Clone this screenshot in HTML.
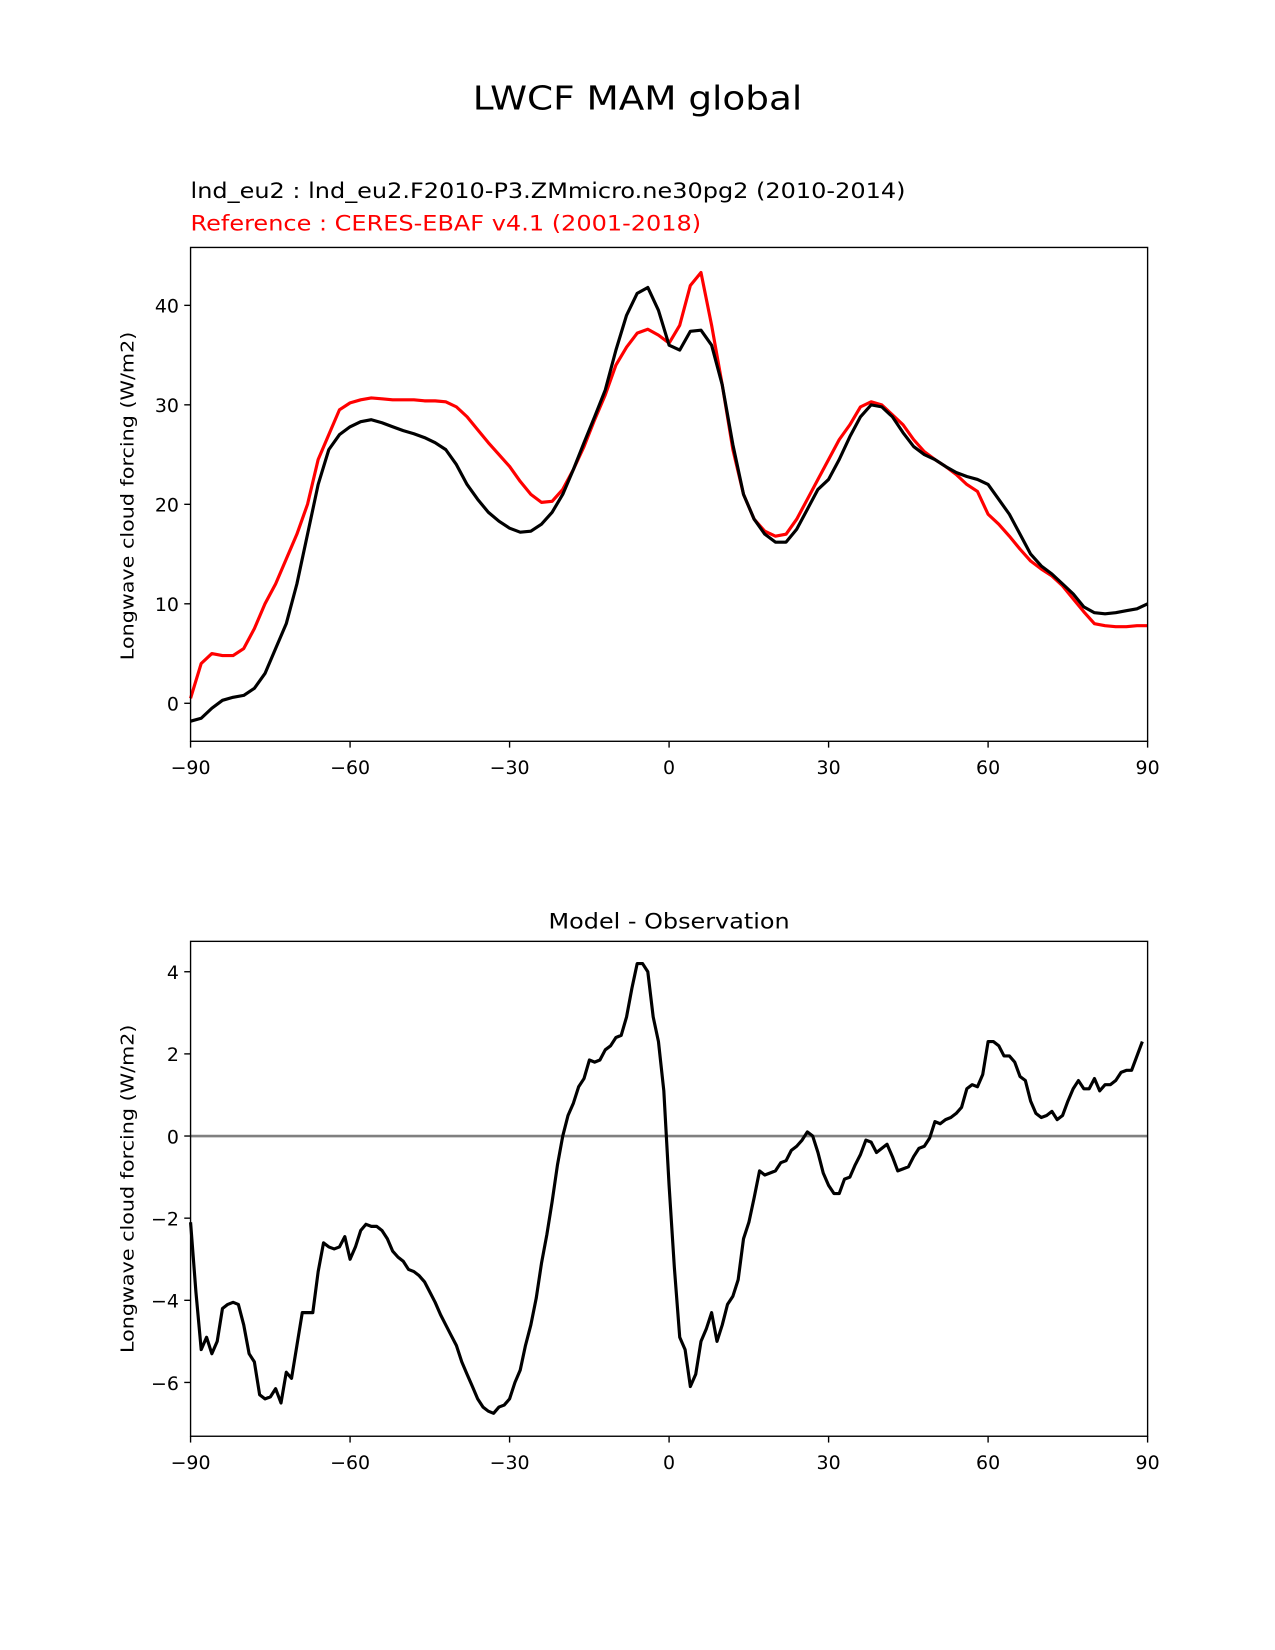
<!DOCTYPE html>
<html><head><meta charset="utf-8"><style>
body{margin:0;background:#fff;overflow:hidden}
svg{display:block;font-family:"DejaVu Sans","Liberation Sans",sans-serif}
</style></head><body>
<svg id="c" width="1275" height="1650" viewBox="0 0 1211 1567" preserveAspectRatio="none">
<rect width="1211" height="1567" fill="#fff"/>
<text x="449" y="104" font-size="31" textLength="313" lengthAdjust="spacingAndGlyphs">LWCF MAM global</text>
<text x="181" y="188" font-size="20" textLength="679" lengthAdjust="spacingAndGlyphs">lnd_eu2 : lnd_eu2.F2010-P3.ZMmicro.ne30pg2 (2010-2014)</text>
<text x="181" y="219" font-size="20" fill="#ff0000" textLength="485" lengthAdjust="spacingAndGlyphs">Reference : CERES-EBAF v4.1 (2001-2018)</text>
<text x="521" y="882" font-size="20" textLength="229" lengthAdjust="spacingAndGlyphs">Model - Observation</text>
<g id="top"></g>
<g id="bot"></g>
</svg>
<script>
const latsTop=[-90,-88,-86,-84,-82,-80,-78,-76,-74,-72,-70,-68,-66,-64,-62,-60,-58,-56,-54,-52,-50,-48,-46,-44,-42,-40,-38,-36,-34,-32,-30,-28,-26,-24,-22,-20,-18,-16,-14,-12,-10,-8,-6,-4,-2,0,2,4,6,8,10,12,14,16,18,20,22,24,26,28,30,32,34,36,38,40,42,44,46,48,50,52,54,56,58,60,62,64,66,68,70,72,74,76,78,80,82,84,86,88,90];
const modelVals=[-1.8,-1.5,-0.5,0.3,0.6,0.8,1.5,3,5.5,8,12,17,22,25.5,27,27.8,28.3,28.5,28.2,27.8,27.4,27.1,26.7,26.2,25.5,24,22,20.5,19.2,18.3,17.6,17.2,17.3,18,19.2,21,23.5,26.2,28.8,31.5,35.5,39,41.2,41.8,39.5,36,35.5,37.4,37.5,36,32,26,21,18.5,17,16.2,16.2,17.5,19.5,21.5,22.5,24.5,26.8,28.8,30,29.8,28.8,27.2,25.8,25,24.5,23.8,23.2,22.8,22.5,22,20.5,19,17,15,13.8,13,12,11,9.7,9.1,9,9.1,9.3,9.5,10];
const refVals=[0.5,4,5,4.8,4.8,5.5,7.5,10,12,14.5,17,20,24.5,27,29.5,30.2,30.5,30.7,30.6,30.5,30.5,30.5,30.4,30.4,30.3,29.8,28.8,27.5,26.2,25,23.8,22.3,21,20.2,20.3,21.5,23.5,25.8,28.5,31,34,35.8,37.2,37.6,37,36.2,38,42,43.3,38,32,25.5,21,18.5,17.3,16.8,17,18.5,20.5,22.5,24.5,26.5,28,29.8,30.3,30,29,28,26.5,25.3,24.5,23.8,23,22,21.3,19,18,16.8,15.5,14.3,13.5,12.8,11.8,10.5,9.2,8,7.8,7.7,7.7,7.8,7.8];
const diffVals=[-2.1,-3.8,-5.2,-4.9,-5.3,-5,-4.2,-4.1,-4.05,-4.1,-4.6,-5.3,-5.5,-6.3,-6.4,-6.35,-6.15,-6.5,-5.75,-5.9,-5.1,-4.3,-4.3,-4.3,-3.3,-2.6,-2.7,-2.75,-2.7,-2.45,-3.0,-2.7,-2.3,-2.15,-2.2,-2.2,-2.3,-2.5,-2.8,-2.95,-3.05,-3.25,-3.3,-3.4,-3.55,-3.8,-4.05,-4.35,-4.6,-4.85,-5.1,-5.5,-5.8,-6.1,-6.4,-6.6,-6.7,-6.75,-6.6,-6.55,-6.4,-6.0,-5.7,-5.1,-4.6,-3.95,-3.1,-2.4,-1.6,-0.7,0.0,0.5,0.8,1.2,1.4,1.85,1.8,1.85,2.1,2.2,2.4,2.45,2.9,3.6,4.2,4.2,4.0,2.9,2.3,1.1,-1.2,-3.2,-4.9,-5.2,-6.1,-5.8,-5.0,-4.7,-4.3,-5.0,-4.6,-4.1,-3.9,-3.5,-2.5,-2.1,-1.5,-0.85,-0.95,-0.9,-0.85,-0.65,-0.6,-0.35,-0.25,-0.1,0.1,0.0,-0.4,-0.9,-1.2,-1.4,-1.4,-1.05,-1.0,-0.7,-0.45,-0.1,-0.15,-0.4,-0.3,-0.2,-0.5,-0.85,-0.8,-0.75,-0.5,-0.3,-0.25,-0.05,0.35,0.3,0.4,0.45,0.55,0.7,1.15,1.25,1.2,1.5,2.3,2.3,2.2,1.95,1.95,1.8,1.45,1.35,0.85,0.55,0.45,0.5,0.6,0.4,0.5,0.85,1.15,1.35,1.15,1.15,1.4,1.1,1.25,1.25,1.35,1.55,1.6,1.6,1.95,2.3];
const latsDiff=diffVals.map((v,i)=>-90+i);
const xTicks=[-90,-60,-30,0,30,60,90];
const yTicksTop=[0,10,20,30,40];
const yTicksBot=[-6,-4,-2,0,2,4];
const NS='http://www.w3.org/2000/svg';
function mk(p,t,a){const e=document.createElementNS(NS,t);for(const k in a)e.setAttribute(k,a[k]);p.appendChild(e);return e;}
function panel(g,top,bot,ymin,ymax,yTicks,yLabelY){
  const L=181,R=1090;
  const X=v=>L+(v+90)/180*(R-L);
  const Y=v=>bot-(v-ymin)/(ymax-ymin)*(bot-top);
  for(const t of xTicks){
    const tk=mk(g,'line',{x1:X(t),x2:X(t),y1:bot,y2:bot+6,stroke:'#000','stroke-width':1.3});
    
    
    const tx=mk(g,'text',{x:X(t),y:bot+31,'font-size':18,'text-anchor':'middle'});
    tx.textContent=(t<0?'\u2212'+(-t):t);
    
    
  }
  for(const t of yTicks){
    const tk=mk(g,'line',{x1:L-6,x2:L,y1:Y(t),y2:Y(t),stroke:'#000','stroke-width':1.3});
    
    
    const tx=mk(g,'text',{x:L-11,y:Y(t)+7,'font-size':18,'text-anchor':'end'});
    tx.textContent=(t<0?'\u2212'+(-t):t);
    
    
  }
  const yl=mk(g,'text',{x:-156,y:0,'font-size':17,textLength:312,lengthAdjust:'spacingAndGlyphs',transform:`translate(127,${yLabelY}) rotate(-90)`});
  yl.textContent='Longwave cloud forcing (W/m2)';
  
  
  return {X,Y,L,R,top,bot};
}
function line(g,ax,xs,ys,color,name){
  const d=xs.map((x,i)=>(i?'L':'M')+ax.X(x).toFixed(1)+' '+ax.Y(ys[i]).toFixed(1)).join(' ');
  const p=mk(g,'path',{d,fill:'none',stroke:color,'stroke-width':3,'stroke-linejoin':'round'});
  
  
}
function frame(g,ax){
  const r=mk(g,'rect',{x:ax.L,y:ax.top,width:ax.R-ax.L,height:ax.bot-ax.top,fill:'none',stroke:'#000','stroke-width':1.3});
  
  
}
const gt=document.getElementById('top');
const a1=panel(gt,235,704,-3.82,45.82,yTicksTop,471);
line(gt,a1,latsTop,refVals,'#ff0000','reference-line');
line(gt,a1,latsTop,modelVals,'#000','model-line');
frame(gt,a1);
const gb=document.getElementById('bot');
const a2=panel(gb,894,1364,-7.31,4.74,yTicksBot,1129);
const z=mk(gb,'line',{x1:a2.L,x2:a2.R,y1:a2.Y(0),y2:a2.Y(0),stroke:'#808080','stroke-width':2.5});


line(gb,a2,latsDiff,diffVals,'#000','difference-line');
frame(gb,a2);
</script>
</body></html>
